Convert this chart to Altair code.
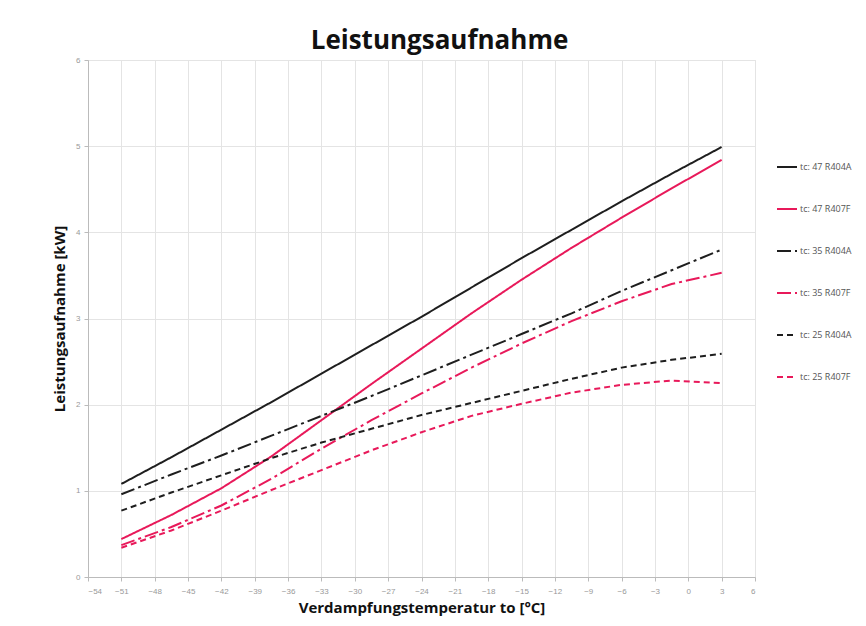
import altair as alt
import pandas as pd

# Evaporation temperature [°C]
temps = [-51, -46.5, -42, -37.5, -33, -28.5, -24, -19.5, -15, -10.5, -6, -1.5, 3]

series_names = ["tc: 47 R404A", "tc: 47 R407F", "tc: 35 R404A",
                "tc: 35 R407F", "tc: 25 R404A", "tc: 25 R407F"]

tc47_r404a = [1.08, 1.39, 1.71, 2.03, 2.36, 2.69, 3.02, 3.36, 3.70, 4.03, 4.36, 4.68, 4.99]
tc47_r407f = [0.44, 0.72, 1.03, 1.40, 1.82, 2.24, 2.65, 3.06, 3.45, 3.82, 4.17, 4.51, 4.84]
tc35_r404a = [0.96, 1.19, 1.41, 1.64, 1.87, 2.10, 2.34, 2.58, 2.82, 3.06, 3.32, 3.56, 3.80]
tc35_r407f = [0.37, 0.58, 0.83, 1.14, 1.49, 1.82, 2.13, 2.43, 2.71, 2.97, 3.20, 3.40, 3.53]
tc25_r404a = [0.77, 0.98, 1.18, 1.38, 1.56, 1.72, 1.88, 2.02, 2.16, 2.30, 2.43, 2.52, 2.59]
tc25_r407f = [0.34, 0.54, 0.77, 1.01, 1.24, 1.47, 1.68, 1.87, 2.01, 2.14, 2.23, 2.28, 2.25]

x_ticks = list(range(-54, 7, 3))
y_ticks = [0, 1, 2, 3, 4, 5, 6]

all_series = [tc47_r404a, tc47_r407f, tc35_r404a, tc35_r407f, tc25_r404a, tc25_r407f]
rows = []
for name, vals in zip(series_names, all_series):
    for t, v in zip(temps, vals):
        rows.append({"t": t, "p": v, "series": name})
df = pd.DataFrame(rows)

BLACK = "#1e1e1e"
RED = "#e8195a"
colors = [BLACK, RED, BLACK, RED, BLACK, RED]
dashes = [[1, 0], [1, 0], [14, 4, 3, 4], [14, 4, 3, 4], [6, 4], [6, 4]]

legend_cfg = dict(title=None, orient="none", legendX=688, legendY=96,
                  symbolType="stroke", symbolSize=400,
                  symbolStrokeWidth=2, labelFontSize=9,
                  labelColor="#555", labelFont="Open Sans",
                  rowPadding=26, labelOffset=2)

chart = alt.Chart(df).mark_line(strokeWidth=2).encode(
    x=alt.X("t:Q",
            scale=alt.Scale(domain=[-54, 6], nice=False, zero=False),
            axis=alt.Axis(values=x_ticks, format="d", title="Verdampfungstemperatur to [°C]",
                          titleFontSize=15, titleFontWeight="bold", titleColor="#111",
                          titleFont="Open Sans", titlePadding=5,
                          labelFontSize=8, labelColor="#999", labelPadding=6,
                          grid=True, gridColor="#e4e4e4", domainColor="#bbbbbb",
                          tickColor="#bbbbbb", tickSize=4)),
    y=alt.Y("p:Q",
            scale=alt.Scale(domain=[0, 6], nice=False),
            axis=alt.Axis(values=y_ticks, format="d", title="Leistungsaufnahme [kW]",
                          titleFontSize=15, titleFontWeight="bold", titleColor="#111",
                          titleFont="Open Sans", titlePadding=8,
                          labelFontSize=8, labelColor="#999", labelPadding=4,
                          grid=True, gridColor="#e4e4e4", domainColor="#bbbbbb",
                          tickColor="#bbbbbb", tickSize=4)),
    color=alt.Color("series:N",
                    scale=alt.Scale(domain=series_names, range=colors),
                    legend=alt.Legend(**legend_cfg)),
    strokeDash=alt.StrokeDash("series:N",
                              scale=alt.Scale(domain=series_names, range=dashes),
                              legend=alt.Legend(**legend_cfg)),
    detail="series:N",
).properties(
    width=667, height=517,
    title=alt.TitleParams("Leistungsaufnahme", fontSize=26, fontWeight="bold",
                          font="Open Sans", color="#111", anchor="middle", offset=2, dx=18),
    autosize=alt.AutoSizeParams(type="none"),
    padding={"left": 80, "top": 52, "right": 103, "bottom": 45},
).configure_view(stroke=None).configure(background="white")

chart.save("out.html", embed_options={"renderer": "svg", "actions": False})
